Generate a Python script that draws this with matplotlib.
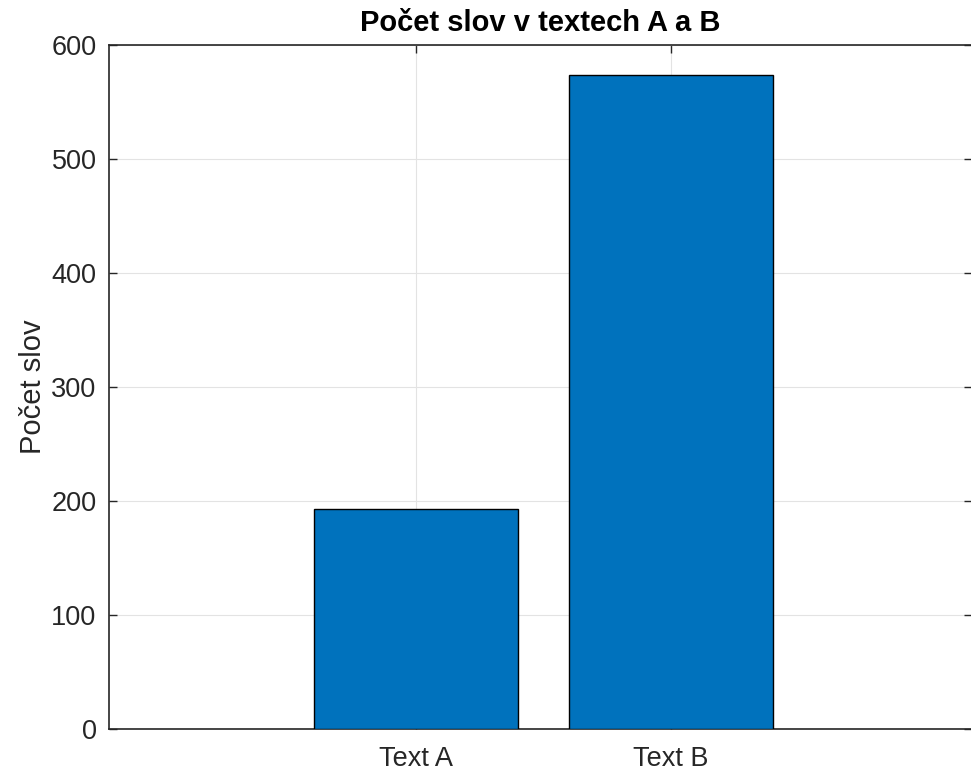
import matplotlib
matplotlib.use("Agg")
from matplotlib import pyplot as plt

# data
kategorie = ["Text A", "Text B"]
pocty = [193, 574]
pozice = [1, 2]

plt.rcParams['font.family'] = ['Liberation Sans', 'DejaVu Sans']

fig = plt.figure(figsize=(9.71, 7.71), dpi=100)
ax = fig.add_axes([109/971, 1 - 729/771, 863/971, 684/771])

ax.bar(pozice, pocty, width=0.8, color='#0072BD', edgecolor='black', linewidth=1, zorder=3)

ax.set_xlim(-0.204, 3.18)
ax.set_ylim(0, 600)
ax.set_xticks(pozice)
ax.set_xticklabels(kategorie)
ax.set_yticks(range(0, 601, 100))

ax.grid(True, color='#e3e3e3', linewidth=0.8, zorder=0)
ax.tick_params(direction='in', top=True, right=True, labelsize=19.5, colors='#262626',
               length=6, width=1)
ax.tick_params(axis='y', pad=9)
ax.tick_params(axis='x', pad=12)
for s in ['left', 'top', 'bottom']:
    ax.spines[s].set_color('#262626')
    ax.spines[s].set_linewidth(1.2)
ax.spines['right'].set_visible(False)

ax.set_ylabel("Počet slov", fontsize=21, color='#262626', labelpad=3)
ax.set_title("Počet slov v textech A a B", fontsize=21, fontweight='bold', pad=10)

fig.savefig("out.png", dpi=100)
